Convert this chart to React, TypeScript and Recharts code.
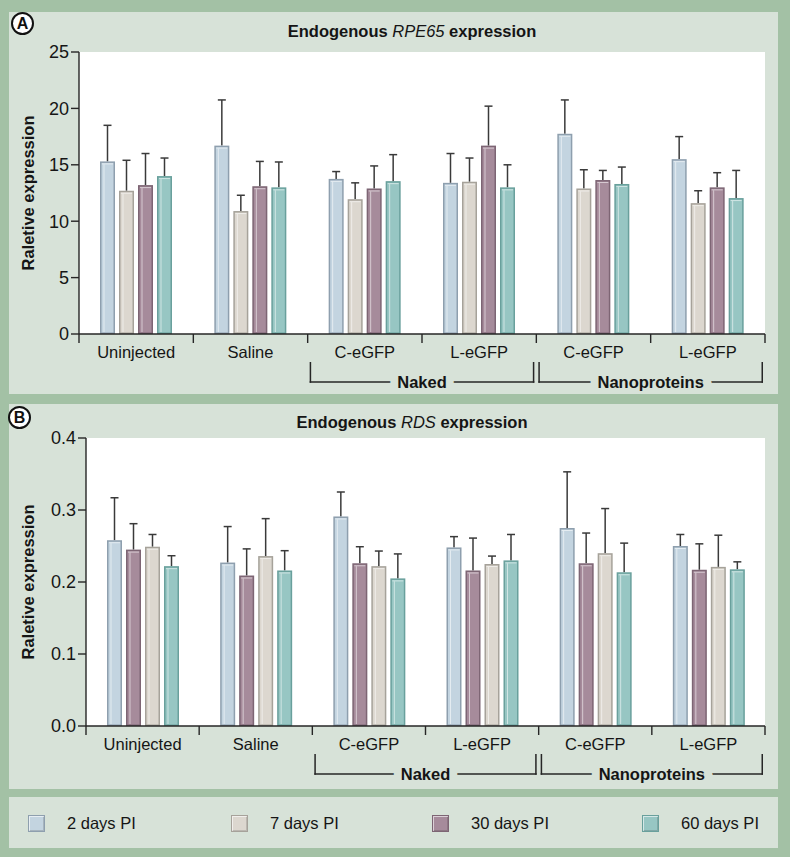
import { Bar, BarChart, CartesianGrid, XAxis, YAxis } from "recharts";

const FONT = '"Liberation Sans", Arial, Helvetica, sans-serif';
const OUTER_BG = "#a3c1a5";
const PANEL_BG = "#d7e2d8";
const INK = "#151515";

// categories along the x axis
const categories = ["Uninjected", "Saline", "C-eGFP", "L-eGFP", "C-eGFP", "L-eGFP"];
const groupLabels = ["Naked", "Nanoproteins"];
const groupFirst = [2, 4];
const groupLast = [3, 5];

// series
const seriesNames = ["2 days PI", "7 days PI", "30 days PI", "60 days PI"];
const seriesFill = ["#c3d4e0", "#dcd7cf", "#a68b9b", "#97c6c3"];
const seriesEdge = ["#8e9fae", "#a6a29a", "#7d6574", "#69a09c"];

// A: endogenous RPE65 (mean, SD)
const rpe65Day2 = [15.3, 16.7, 13.75, 13.4, 17.75, 15.5];
const rpe65Day2Sd = [3.2, 4.05, 0.65, 2.6, 3.0, 2.0];
const rpe65Day7 = [12.7, 10.9, 11.95, 13.5, 12.9, 11.6];
const rpe65Day7Sd = [2.7, 1.4, 1.45, 2.1, 1.66, 1.1];
const rpe65Day30 = [13.2, 13.1, 12.9, 16.7, 13.65, 13.0];
const rpe65Day30Sd = [2.8, 2.2, 2.0, 3.5, 0.85, 1.3];
const rpe65Day60 = [14.0, 13.0, 13.55, 13.0, 13.3, 12.05];
const rpe65Day60Sd = [1.6, 2.25, 2.35, 2.0, 1.5, 2.45];
const rpe65Ticks = [0, 5, 10, 15, 20, 25];

// B: endogenous RDS (mean, SD)
const rdsDay2 = [0.258, 0.227, 0.291, 0.248, 0.275, 0.25];
const rdsDay2Sd = [0.059, 0.05, 0.034, 0.015, 0.078, 0.016];
const rdsDay7 = [0.249, 0.236, 0.222, 0.225, 0.24, 0.221];
const rdsDay7Sd = [0.017, 0.052, 0.021, 0.011, 0.062, 0.044];
const rdsDay30 = [0.245, 0.209, 0.226, 0.216, 0.226, 0.217];
const rdsDay30Sd = [0.036, 0.037, 0.023, 0.045, 0.042, 0.036];
const rdsDay60 = [0.222, 0.216, 0.205, 0.23, 0.2135, 0.2176];
const rdsDay60Sd = [0.0145, 0.0275, 0.034, 0.036, 0.0405, 0.0104];
const rdsTicks = [0, 0.1, 0.2, 0.3, 0.4];

const rpe65Data = categories.map((c, i) => ({
  name: c,
  d2: rpe65Day2[i], d2sd: rpe65Day2Sd[i],
  d7: rpe65Day7[i], d7sd: rpe65Day7Sd[i],
  d30: rpe65Day30[i], d30sd: rpe65Day30Sd[i],
  d60: rpe65Day60[i], d60sd: rpe65Day60Sd[i],
}));

const rdsData = categories.map((c, i) => ({
  name: c,
  d2: rdsDay2[i], d2sd: rdsDay2Sd[i],
  d7: rdsDay7[i], d7sd: rdsDay7Sd[i],
  d30: rdsDay30[i], d30sd: rdsDay30Sd[i],
  d60: rdsDay60[i], d60sd: rdsDay60Sd[i],
}));

const seriesKeys = ["d2", "d7", "d30", "d60"];

// bar with 3D look + upward error bar
const makeShape = (key: string, fill: string, edge: string) => (props: any) => {
  const { x, y, width, height, payload } = props;
  const v = payload[key];
  const errPx = v ? (payload[key + "sd"] * height) / v : 0;
  const cx = x + width / 2;
  return (
    <g>
      <line x1={cx} x2={cx} y1={y} y2={y - errPx} stroke="#3a3a3a" strokeWidth={1.5} />
      <line x1={cx - 4} x2={cx + 4} y1={y - errPx} y2={y - errPx} stroke="#3a3a3a" strokeWidth={1.5} />
      <rect x={x + 0.75} y={y + 0.75} width={width - 1.5} height={height - 1.5} fill={fill} stroke={edge} strokeWidth={1.5} />
      <line x1={x + 4} x2={x + 4} y1={y + 3} y2={y + height - 2} stroke="#fff" strokeOpacity={0.55} />
      <line x1={x + 2} x2={x + width - 2} y1={y + 2.5} y2={y + 2.5} stroke="#fff" strokeOpacity={0.55} />
    </g>
  );
};

const LINE = "#262626";

// category label, boundary ticks and the half of a group bracket that belongs to this category
const CategoryTick = (props: any) => {
  const { x, y, payload, index } = props;
  const half = payload && payload.offset ? payload.offset : 57;
  const top = y + 28;
  const by = y + 48;
  const gFirst = groupFirst.indexOf(index);
  const gLast = groupLast.indexOf(index);
  return (
    <g>
      {index === 0 && <line x1={x - half} x2={x - half} y1={y} y2={y + 9} stroke={LINE} strokeWidth={1.4} />}
      <line x1={x + half} x2={x + half} y1={y} y2={y + 9} stroke={LINE} strokeWidth={1.4} />
      <text x={x} y={y + 24} textAnchor="middle" fontSize={16.5} fill={INK}>
        {payload.value}
      </text>
      {gFirst >= 0 && (
        <g>
          <rect x={x - half + 2} y={top} width={1.5} height={by - top + 0.75} fill={LINE} />
          <line x1={x - half + 2} x2={x + half} y1={by} y2={by} stroke={LINE} strokeWidth={1.5} />
        </g>
      )}
      {gLast >= 0 && (
        <g>
          <line x1={x - half} x2={x + half - 2} y1={by} y2={by} stroke={LINE} strokeWidth={1.5} />
          <rect x={x + half - 3.5} y={top} width={1.5} height={by - top + 0.75} fill={LINE} />
          <text x={x - half} y={by + 5.5} textAnchor="middle" fontSize={16.5} fontWeight="bold" fill={INK}
            stroke={PANEL_BG} strokeWidth={16} paintOrder="stroke">
            {groupLabels[gLast]}
          </text>
        </g>
      )}
    </g>
  );
};

type PanelProps = {
  top: number;
  height: number;
  letter: string;
  letterX: number;
  letterY: number;
  gene: string;
  titleY: number;
  data: object[];
  order: number[];
  ticks: number[];
  yWidth: number;
  marginTop: number;
  xHeight: number;
  decimals: number;
};

const Panel = (p: PanelProps) => (
  <div style={{ position: "absolute", left: 9, top: p.top, width: 769, height: p.height, background: PANEL_BG }}>
    <div style={{ position: "absolute", left: 0, top: p.titleY - 10, width: 806, textAlign: "center", fontSize: 16.5, fontWeight: "bold", color: INK, lineHeight: "20px" }}>
      Endogenous <span style={{ fontStyle: "italic", fontWeight: "normal" }}>{p.gene}</span> expression
    </div>
    <BarChart width={769} height={p.height} data={p.data} margin={{ top: p.marginTop, right: 13, left: 0, bottom: 0 }}
      barSize={15} barGap={4} style={{ fontFamily: FONT, overflow: "visible" }}>
      <CartesianGrid horizontal={false} vertical={false} fill="#ffffff" stroke="none" />
      <XAxis dataKey="name" height={p.xHeight} tickSize={0} tickMargin={0} interval={0}
        axisLine={{ stroke: LINE, strokeWidth: 1.4 }} tick={<CategoryTick />} />
      <YAxis width={p.yWidth} domain={[0, p.ticks[p.ticks.length - 1]]} ticks={p.ticks} interval={0}
        tickFormatter={(v: number) => v.toFixed(p.decimals)}
        tickSize={8} tickMargin={2}
        axisLine={{ stroke: LINE, strokeWidth: 1.4 }} tickLine={{ stroke: LINE, strokeWidth: 1.4 }}
        tick={{ fill: INK, fontSize: 18 }}
        label={{ value: "Raletive expression", angle: -90, position: "insideLeft", offset: 19,
          style: { textAnchor: "middle", fontWeight: "bold", fontSize: 16.5, fill: INK } }} />
      {p.order.map((s) => (
        <Bar key={seriesKeys[s]} dataKey={seriesKeys[s]} name={seriesNames[s]} fill={seriesFill[s]}
          isAnimationActive={false} shape={makeShape(seriesKeys[s], seriesFill[s], seriesEdge[s])} />
      ))}
    </BarChart>
    <div style={{ position: "absolute", left: p.letterX - 11, top: p.letterY - 11, width: 19, height: 19, borderRadius: "50%",
      border: "2px solid #111", background: "#fff", fontWeight: "bold", fontSize: 16, lineHeight: "19px", textAlign: "center", color: "#111" }}>
      {p.letter}
    </div>
  </div>
);

const legendX = [19, 222, 423, 633];

export default function App() {
  return (
    <div style={{ position: "absolute", left: 0, top: 0, width: 790, height: 857, background: OUTER_BG, fontFamily: FONT, overflow: "hidden" }}>
      <Panel top={12} height={382} letter="A" letterX={13} letterY={11} gene="RPE65" titleY={19}
        data={rpe65Data} order={[0, 1, 2, 3]} ticks={rpe65Ticks} yWidth={70} marginTop={40} xHeight={60} decimals={0} />
      <Panel top={404} height={385} letter="B" letterX={10} letterY={13} gene="RDS" titleY={18}
        data={rdsData} order={[0, 2, 1, 3]} ticks={rdsTicks} yWidth={77} marginTop={34} xHeight={63} decimals={1} />
      <div style={{ position: "absolute", left: 9, top: 797, width: 769, height: 51, background: PANEL_BG }}>
        {seriesNames.map((n, i) => (
          <div key={n} style={{ position: "absolute", left: legendX[i], top: 18, height: 17, display: "flex", alignItems: "center" }}>
            <div style={{ width: 15, height: 15, background: seriesFill[i], border: `1px solid ${seriesEdge[i]}`,
              boxShadow: "inset 1px 1px 0 rgba(255,255,255,0.6), inset -1px -1px 0 rgba(0,0,0,0.15)" }} />
            <span style={{ marginLeft: 22, fontSize: 16.5, color: INK, whiteSpace: "nowrap" }}>{n}</span>
          </div>
        ))}
      </div>
    </div>
  );
}
